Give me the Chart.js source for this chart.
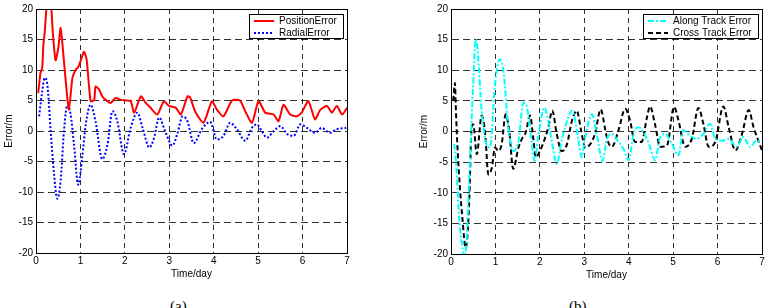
<!DOCTYPE html>
<html>
<head>
<meta charset="utf-8">
<script src="https://cdn.jsdelivr.net/npm/chart.js@4.4.1/dist/chart.umd.min.js"></script>
<style>
  body { margin: 0; background: #fff; width: 769px; height: 308px; overflow: hidden; position: relative; }
  canvas { position: absolute; top: 0; }
  .cap { position: absolute; top: 299px; font: 15px "Liberation Serif", "Times New Roman", serif; line-height: 1; color: #000; }
</style>
</head>
<body>
<canvas id="chartA" width="362" height="290" style="left:0"></canvas>
<canvas id="chartB" width="354" height="291" style="left:415px"></canvas>
<div class="cap" style="left:170px">(a)</div>
<div class="cap" style="left:569px">(b)</div>
<script>
// (a) position / radial error, metres vs days
var posT = [0.05, 0.1, 0.14, 0.165, 0.2, 0.24, 0.29, 0.34, 0.38, 0.44,
            0.5, 0.555, 0.61, 0.67, 0.74, 0.82, 0.89, 0.95, 1.0, 1.08,
            1.14, 1.23, 1.31, 1.34, 1.42, 1.49, 1.57, 1.68, 1.79, 1.91,
            2.02, 2.13, 2.21, 2.36, 2.47, 2.58, 2.73, 2.88, 2.99, 3.15,
            3.26, 3.41, 3.47, 3.58, 3.77, 3.96, 4.07, 4.22, 4.41, 4.59,
            4.71, 4.86, 5.01, 5.16, 5.35, 5.46, 5.57, 5.72, 5.87, 5.98,
            6.13, 6.28, 6.40, 6.55, 6.66, 6.77, 6.89, 7.0];
var posErr = [6.2, 9.5, 10.3, 14, 16.5, 20.5, 22, 20.5, 16, 11.6,
              13.5, 16.9, 13, 8.1, 3.5, 8.7, 10, 10.5, 11.4, 13,
              11.7, 4.9, 5.1, 7.3, 6.8, 5.7, 5.1, 4.6, 5.4, 5.1,
              5.0, 4.9, 3.0, 5.7, 4.6, 3.8, 2.7, 4.9, 4.1, 3.8,
              2.7, 5.7, 5.5, 3.25, 1.35, 4.9, 3.5, 2.4, 5.0, 5.0,
              3.25, 1.35, 4.9, 3.0, 2.7, 1.6, 4.3, 2.7, 2.4, 3.0,
              4.9, 1.9, 3.5, 4.1, 3.0, 4.1, 2.7, 3.8];

var radT = [0.07, 0.14, 0.195, 0.255, 0.33, 0.405, 0.48, 0.555, 0.63, 0.705,
            0.78, 0.855, 0.95, 1.04, 1.12, 1.23, 1.34, 1.49, 1.61, 1.72,
            1.83, 1.98, 2.13, 2.28, 2.40, 2.55, 2.66, 2.77, 2.92, 3.07,
            3.18, 3.30, 3.41, 3.55, 3.73, 3.92, 4.07, 4.22, 4.37, 4.52,
            4.71, 4.86, 4.97, 5.08, 5.20, 5.35, 5.50, 5.65, 5.80, 5.95,
            6.10, 6.28, 6.43, 6.62, 6.77, 6.98];
var radErr = [2.4, 6.5, 8.7, 7.6, 0, -7.0, -11.1, -8.1, 0, 4.3,
              2.7, -2.2, -8.8, -4.3, 1.1, 4.3, 1.6, -4.6, -2.2, 3.25,
              1.6, -3.8, 0.5, 3.0, 0.5, -2.7, -1.1, 2.2, -0.3, -2.4,
              -0.5, 2.4, 1.6, -2.0, 0.3, 1.5, -1.4, -0.8, 1.35, 0.3,
              -1.6, 0.5, 1.1, 0, -1.1, 0, 0.8, -0.5, -0.8, 1.1,
              0.5, -0.3, 0.5, -0.3, 0.3, 0.5];

// (b) along / cross track error
var alongT = [0.07, 0.105, 0.165, 0.2, 0.26, 0.3, 0.35, 0.405, 0.45, 0.5,
              0.555, 0.6, 0.69, 0.8, 0.88, 0.99, 1.10, 1.18, 1.29, 1.40,
              1.52, 1.63, 1.70, 1.82, 1.88, 1.97, 2.10, 2.19, 2.28, 2.38,
              2.49, 2.64, 2.73, 2.87, 2.94, 3.02, 3.17, 3.28, 3.41, 3.51,
              3.62, 3.77, 3.88, 4.0, 4.11, 4.22, 4.33, 4.48, 4.59, 4.71,
              4.82, 4.97, 5.12, 5.23, 5.38, 5.53, 5.68, 5.83, 5.95, 6.10,
              6.25, 6.43, 6.58, 6.73, 6.88, 7.0];
var alongErr = [-2.0, -4.2, -11.8, -15.7, -19, -20.5, -17.8, -8.6, -0.4, 7.7,
                15, 13.2, 3.4, -2.1, -2.6, 7.7, 11.8, 9.9, 0.65, -3.2,
                -1.5, 4.7, 4.2, -2.1, -4.8, -0.4, 3.9, 1.7, -2.1, -5.3,
                -1.5, 2.3, 3.4, -1.5, -4.2, -1.0, 2.8, -0.4, -4.8, -1.2,
                -0.4, -1.7, -2.8, -4.7, -0.4, 0.7, -0.1, -2.5, -4.7, -0.9,
                -0.4, -2.0, -3.9, 0.2, -0.7, -1.2, -0.4, 1.25, -1.2, -1.5,
                -1.2, -2.5, -0.9, -2.5, -1.5, -1.7];

var crossT = [0.05, 0.09, 0.105, 0.15, 0.2, 0.255, 0.33, 0.405, 0.465, 0.5,
              0.58, 0.69, 0.77, 0.84, 0.92, 0.99, 1.07, 1.14, 1.23, 1.31,
              1.40, 1.52, 1.61, 1.68, 1.78, 1.85, 1.91, 2.00, 2.12, 2.19,
              2.28, 2.38, 2.49, 2.61, 2.72, 2.83, 2.93, 3.02, 3.13, 3.24,
              3.37, 3.47, 3.53, 3.62, 3.77, 3.92, 4.03, 4.14, 4.29, 4.41,
              4.48, 4.59, 4.71, 4.86, 5.02, 5.12, 5.27, 5.42, 5.57, 5.68,
              5.80, 5.95, 6.13, 6.25, 6.40, 6.55, 6.70, 6.81, 7.0];
var crossErr = [5, 7.9, 4.5, -3.2, -9.1, -14, -19, -12.4, 0.65, 1.2,
                -3.7, 2.6, -0.4, -7.0, -5.9, -2.6, -3.2, -2.1, 2.8, 0.1,
                -6.1, -2.6, -1.0, -0.2, 2.6, -1.0, -4.2, -3.2, -1.0, 0.65,
                3.4, -0.4, -3.2, -2.1, 1.7, 3.4, 0.1, -2.6, -2.1, -0.4,
                3.6, 0.4, -1.6, -2.5, 0.2, 3.7, 1.8, -1.7, -1.7, 2.3,
                4.1, 1.25, -2.5, -2.3, 4.0, 1.8, -2.5, -1.2, 3.85, 1.25,
                -2.5, -1.7, 4.1, 0.7, -3.1, -0.4, 3.5, 0.7, -3.1];

var xTicks = [0, 1, 2, 3, 4, 5, 6, 7];
var yTicks = [-20, -15, -10, -5, 0, 5, 10, 15, 20];

var FONT = '"Liberation Sans", Arial, sans-serif';

function pts(t, v) {
  return t.map(function(x, i) { return { x: x, y: v[i] }; });
}

// solid frame round the plot, like matlab's box on
var frame = {
  id: 'frame',
  afterDatasetsDraw: function(chart) {
    var a = chart.chartArea, ctx = chart.ctx;
    ctx.save();
    ctx.strokeStyle = '#000';
    ctx.lineWidth = 1;
    ctx.strokeRect(Math.round(a.left) + 0.5, Math.round(a.top) + 0.5,
                   Math.round(a.right - a.left), Math.round(a.bottom - a.top));
    ctx.restore();
  }
};

// boxed legend in the top right corner of the plot
var boxLegend = {
  id: 'boxLegend',
  afterDraw: function(chart) {
    var ctx = chart.ctx, a = chart.chartArea;
    var sets = chart.data.datasets;
    ctx.save();
    ctx.font = '10px ' + FONT;
    var tw = 0;
    sets.forEach(function(ds) { tw = Math.max(tw, ctx.measureText(ds.label).width); });
    var w = Math.round(30 + tw + 6), h = 24;
    var x = Math.round(a.right - 4 - w), y = Math.round(a.top + 5);
    ctx.fillStyle = '#fff';
    ctx.fillRect(x, y, w, h);
    ctx.strokeStyle = '#000';
    ctx.lineWidth = 1;
    ctx.strokeRect(x + 0.5, y + 0.5, w, h);
    sets.forEach(function(ds, i) {
      var cy = y + 7 + i * 12;
      ctx.strokeStyle = ds.borderColor;
      ctx.lineWidth = ds.borderWidth;
      ctx.setLineDash(ds.borderDash || []);
      ctx.beginPath();
      ctx.moveTo(x + 5, cy);
      ctx.lineTo(x + 25, cy);
      ctx.stroke();
      ctx.setLineDash([]);
      ctx.fillStyle = '#000';
      ctx.textBaseline = 'middle';
      ctx.fillText(ds.label, x + 30, cy);
    });
    ctx.restore();
  }
};

function makeChart(id, datasets, padRight, padTop) {
  var h = document.getElementById(id).height;
  return new Chart(document.getElementById(id), {
    type: 'line',
    data: { datasets: datasets },
    plugins: [frame, boxLegend],
    options: {
      responsive: false,
      animation: false,
      layout: { padding: { left: 0, right: padRight, top: padTop, bottom: 0 } },
      elements: { point: { radius: 0 } },
      plugins: { legend: { display: false }, tooltip: { enabled: false } },
      scales: {
        x: {
          type: 'linear', min: 0, max: 7,
          afterBuildTicks: function(s) { s.ticks = xTicks.map(function(v) { return { value: v }; }); },
          afterFit: function(s) { s.height = h - 253 - padTop + 7; },
          ticks: { color: '#000', font: { family: FONT, size: 10 }, padding: 2, maxRotation: 0 },
          grid: { color: 'rgba(0,0,0,0.8)', lineWidth: 1, drawTicks: false },
          border: { color: '#000', dash: [5, 4] },
          title: { display: true, text: 'Time/day', color: '#000', font: { family: FONT, size: 10 }, padding: { top: 0, bottom: 10 } }
        },
        y: {
          type: 'linear', min: -20, max: 20,
          afterBuildTicks: function(s) { s.ticks = yTicks.map(function(v) { return { value: v }; }); },
          afterFit: function(s) { s.width = 36; },
          ticks: { color: '#000', font: { family: FONT, size: 10 }, padding: 3 },
          grid: { color: 'rgba(0,0,0,0.8)', lineWidth: 1, drawTicks: false },
          border: { color: '#000', dash: [7, 4] },
          title: { display: true, text: 'Error/m', color: '#000', font: { family: FONT, size: 10 }, padding: { top: 3, bottom: 0 } }
        }
      }
    }
  });
}

makeChart('chartA', [
  { label: 'PositionError', data: pts(posT, posErr), borderColor: '#ff0000', borderWidth: 2, tension: 0.2 },
  { label: 'RadialError', data: pts(radT, radErr), borderColor: '#0000ff', borderWidth: 2, borderDash: [2, 2], cubicInterpolationMode: 'monotone' }
], 15, 7);

makeChart('chartB', [
  { label: 'Along Track Error', data: pts(alongT, alongErr), borderColor: '#00ffff', borderWidth: 2, borderDash: [6, 2, 2, 2], cubicInterpolationMode: 'monotone' },
  { label: 'Cross Track Error', data: pts(crossT, crossErr), borderColor: '#000000', borderWidth: 2, borderDash: [5, 3], cubicInterpolationMode: 'monotone' }
], 7, 8);
</script>
</body>
</html>
